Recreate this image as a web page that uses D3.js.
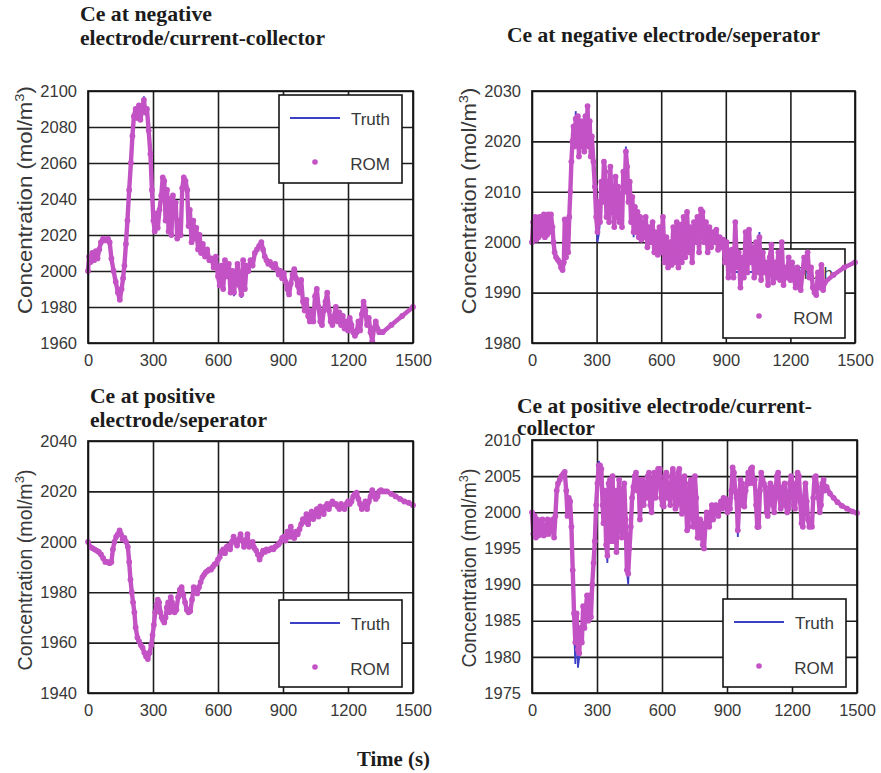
<!DOCTYPE html>
<html>
<head>
<meta charset="utf-8">
<title>Ce concentration: Truth vs ROM</title>
<style>
  body { margin: 0; background: #fff; }
  svg { display: block; }
  .tick text { font-family: "Liberation Sans", Arial, sans-serif; font-size: 16.5px; fill: #383838; }
  .tick line { stroke: #1e1e1e; stroke-width: 1.6; }
  .title { font-family: "Liberation Serif", "Times New Roman", serif; font-weight: bold; font-size: 21px; fill: #1c1c1c; }
  .ylab, .leg { font-family: "Liberation Sans", Arial, sans-serif; fill: #383838; }
</style>
</head>
<body>
<div id="chart"></div>
<script src="https://cdn.jsdelivr.net/npm/d3@7"></script>
<script>
// ---- data (time in s, concentration in mol/m^3) ----
var seriesNames = ["Truth", "ROM"];
var timeTicks = [0, 300, 600, 900, 1200, 1500];

// negative electrode / current-collector
var p1Ticks = [1960, 1980, 2000, 2020, 2040, 2060, 2080, 2100];
var p1Time = [
  0,5,12,20,28,36,44,52,60,70,
  80,92,100,108,118,128,138,147,155,162,
  168,175,182,190,198,205,212,220,228,235,
  242,250,258,265,272,280,288,295,302,308,
  315,322,330,338,345,352,358,365,372,378,
  385,392,398,405,412,420,428,435,442,450,
  458,464,470,478,486,494,500,508,515,522,
  530,540,550,560,570,580,590,600,608,616,
  624,632,640,650,658,666,674,682,690,700,
  708,716,724,732,740,750,760,770,780,790,
  800,808,816,824,832,840,848,856,864,872,
  880,888,896,904,912,920,928,936,944,952,
  960,968,976,984,992,1000,1008,1016,1024,1032,
  1040,1048,1056,1064,1072,1080,1088,1096,1104,1112,
  1120,1128,1136,1144,1152,1160,1168,1176,1184,1192,
  1200,1208,1216,1224,1232,1240,1248,1256,1264,1272,
  1280,1288,1296,1304,1312,1320,1328,1336,1344,1352,
  1360,1400,1450,1500];
var p1Rom = [
  2000,2008,2005,2010,2006,2011,2007,2012,2016,2018,
  2017,2018,2016,2007,2000,1994,1988,1984,1990,1996,
  2003,2015,2028,2045,2060,2075,2086,2090,2085,2092,
  2084,2090,2095,2088,2090,2078,2065,2045,2028,2022,
  2032,2024,2034,2042,2052,2050,2028,2045,2022,2040,
  2020,2042,2030,2038,2018,2028,2020,2046,2052,2050,
  2045,2025,2034,2016,2028,2018,2024,2012,2020,2010,
  2015,2008,2012,2006,2007,2002,2008,1997,1992,2003,
  1990,2006,1997,2004,1988,2000,1988,1997,2004,1992,
  1987,2006,1990,2003,2000,2006,2003,2010,2012,2014,
  2016,2012,2008,2006,2004,2005,2003,2002,2004,2001,
  1998,2000,1996,1999,1994,1990,1987,1993,1998,2001,
  1996,1992,1988,1995,1983,1978,1984,1975,1972,1978,
  1972,1986,1990,1980,1972,1970,1978,1983,1988,1978,
  1972,1970,1975,1980,1972,1977,1970,1975,1968,1972,
  1967,1974,1970,1966,1964,1966,1972,1967,1976,1983,
  1978,1970,1974,1966,1961,1968,1972,1968,1966,1966,
  1966,1970,1975,1980];
var p1Truth = [
  2000,2008,2005,2010,2006,2011,2007,2012,2016,2018,
  2017,2018,2016,2007,2000,1994,1988,1984,1990,1995,
  2003,2015,2028,2045,2060,2075,2086,2090,2085,2092,
  2084,2090,2097,2088,2090,2078,2065,2045,2028,2022,
  2032,2024,2034,2042,2052,2050,2028,2045,2022,2040,
  2020,2042,2030,2038,2018,2028,2020,2046,2052,2050,
  2045,2025,2034,2016,2028,2018,2024,2012,2020,2010,
  2015,2008,2012,2006,2007,2002,2008,1997,1992,2003,
  1990,2006,1997,2004,1988,2000,1986,1997,2004,1992,
  1985,2006,1990,2003,2000,2006,2003,2010,2012,2014,
  2016,2012,2008,2006,2004,2005,2003,2002,2004,2001,
  1998,2000,1996,1999,1994,1990,1987,1993,1998,2001,
  1996,1992,1988,1995,1983,1978,1984,1975,1972,1978,
  1972,1986,1990,1980,1972,1970,1978,1983,1988,1978,
  1972,1970,1975,1980,1972,1977,1970,1975,1968,1972,
  1967,1974,1970,1966,1964,1966,1972,1967,1976,1983,
  1978,1970,1974,1966,1961,1968,1972,1968,1966,1966,
  1965,1970,1975,1980];

// negative electrode / separator
var p2Ticks = [1980, 1990, 2000, 2010, 2020, 2030];
var p2Time = [
  0,5,10,15,20,25,30,35,40,45,
  50,55,60,65,70,75,80,88,95,100,
  105,112,120,128,135,142,148,152,158,163,
  168,173,178,183,188,193,198,203,208,213,
  218,223,228,233,238,243,248,253,258,263,
  268,273,278,285,292,298,304,310,316,322,
  328,334,340,346,352,358,364,370,376,382,
  388,394,400,406,412,418,424,430,436,442,
  448,454,460,466,472,478,484,490,496,502,
  508,514,520,528,536,544,552,560,568,576,
  584,592,600,608,616,624,632,640,648,656,
  664,672,680,688,696,704,712,720,728,736,
  744,752,760,768,776,784,792,800,808,816,
  824,832,840,848,856,864,872,880,888,896,
  904,912,920,928,936,944,952,960,968,976,
  984,992,1000,1008,1016,1024,1032,1040,1048,1056,
  1064,1072,1080,1088,1096,1104,1112,1120,1128,1136,
  1144,1152,1160,1168,1176,1184,1192,1200,1208,1216,
  1224,1232,1240,1248,1256,1264,1272,1280,1288,1296,
  1304,1312,1320,1328,1336,1344,1352,1360,1400,1450,
  1500];
var p2Rom = [
  2000,2004,2001,2005,2000.5,2004.5,2001,2005,2001.5,2005,
  2002,2005.5,2001,2004.8,2001.5,2005.5,2002,2005.5,2003,2000,
  1998,1997,1996.5,1996,1995,1994.5,1996,2004.5,1997,2003,
  1998,2005,2010,2016,2020,2023,2019,2024.5,2021,2025,
  2017,2022,2024,2019,2023,2018,2025,2020,2027,2019,
  2024,2017,2021,2016,2011,2005,2002,2008,2004,2012,
  2008,2016,2014,2005,2012,2004,2015,2006,2010,2003,
  2013,2005,2011,2004,2009,2003,2014,2010,2018,2015,
  2008,2012,2004,2009,2002,2007,2002,2006,2001,2005,
  2000.5,2004,2001,2005,1999,2003,2000,2004,1998,2002,
  1997.5,2003,1998,2005,1996,2001,1995,2000,1995.5,2003,
  1996,2004,1995,2003.5,1996,2005,1997,2006,1998,2003,
  1996,2004,2000,2005,1998,2006.5,2006,2000,2004,1998,
  2003,1999,2002,2000,2002.5,1998.5,2001,1999,2000.5,1996,
  2000,1993,1997,1998.5,1993,2004,1995,1998,1991,1997,
  1993,2002,1994,2002.5,1996,1999,1993,2000,1994,2001,
  1992.5,1998,1994,1996,1991.5,1997,1999.5,1992,1996,1993,
  1998,1992.5,2000,1991.5,1995,1993,1997,1992.5,1996,1993,
  1991,1995,1992,1990.5,1994,1997,1995,1998,1993,1995,
  1991,1990,1989.5,1994,1991,1995.5,1990.5,1992,1993.5,1995,
  1996];
var p2Truth = [
  2000,2004,2001,2005,2000.5,2004.5,2001,2005,2001.5,2005,
  2002,2005.5,2001,2004.8,2001.5,2005.5,2002,2005.5,2003,2000,
  1998,1997,1996.5,1996,1995,1994,1996,2004.5,1997,2003,
  1998,2005,2010,2016,2020,2023,2019,2026,2021,2025,
  2017,2022,2024,2019,2023,2018,2025,2020,2027,2019,
  2024,2017,2021,2016,2011,2005,2000,2001.5,2004,2012,
  2008,2016,2014,2005,2012,2004,2015,2006,2010,2003,
  2013,2005,2011,2004,2009,2003,2014,2010,2019,2015,
  2008,2012,2004,2009,2001,2007,2002,2006,2001,2005,
  2000.5,2004,2001,2005,1999,2003,2000,2004,1998,2002,
  1997.5,2003,1998,2005,1996,2001,1995,2000,1995.5,2003,
  1996,2004,1995,2003.5,1996,2005,1997,2006,1998,2003,
  1996,2004,2000,2005,1998,2006.5,2006,2000,2004,1998,
  2003,1999,2002,2000,2002.5,1998.5,2001,1999,2000.5,1996,
  2000,1993,1997,1998.5,1993,2004,1995,1998,1991,1997,
  1993,2002,1994,2002.5,1996,1999,1993,2000,1994,2002,
  1992.5,1998,1994,1996,1991.5,1997,1999.5,1992,1996,1993,
  1998,1992.5,2000,1991.5,1995,1993,1997,1992.5,1996,1993,
  1991,1995,1992,1990,1994,1997,1995,1998,1993,1995,
  1991,1990,1989.5,1994,1991,1995.5,1990.5,1992,1993.5,1995,
  1996];

// positive electrode / separator
var p3Ticks = [1940, 1960, 1980, 2000, 2020, 2040];
var p3Time = [
  0,10,20,30,40,50,60,70,80,90,
  100,108,115,122,130,138,146,152,160,168,
  176,184,190,196,202,208,214,220,228,236,
  244,252,260,268,276,284,292,298,304,310,
  316,322,328,334,340,346,352,358,364,370,
  376,382,388,394,400,408,416,424,432,440,
  448,456,464,472,480,488,496,504,512,520,
  528,536,544,552,560,568,576,584,592,600,
  608,616,624,632,640,648,656,664,672,680,
  688,696,704,712,720,728,736,744,752,760,
  768,776,784,792,800,808,816,824,832,840,
  848,856,864,872,880,888,896,904,912,920,
  928,936,944,952,960,968,976,984,992,1000,
  1008,1016,1024,1032,1040,1048,1056,1064,1072,1080,
  1088,1096,1104,1112,1120,1128,1136,1144,1152,1160,
  1168,1176,1184,1192,1200,1208,1216,1224,1232,1240,
  1248,1256,1264,1272,1280,1288,1296,1304,1312,1320,
  1328,1336,1344,1352,1360,1370,1380,1400,1420,1440,
  1460,1480,1500];
var p3Rom = [
  2000,1998,1997.5,1997,1996.5,1996,1995,1993.5,1992,1992,
  1991.5,1992,1997,2000,2002,2003,2004.5,2003,2001,2001.5,
  2000,1998,1992,1985,1980,1976,1972,1966,1962,1960.5,
  1959,1958,1956,1954.5,1953.5,1956,1959,1963,1967,1972,
  1975,1977,1976,1972,1970,1969,1968,1970,1974,1976,
  1972,1978,1976,1974,1972,1973,1978,1981,1982,1979,
  1976,1973,1972,1972.5,1977,1982,1980,1979.5,1982,1984,
  1986,1987,1988,1988.5,1989,1989,1990,1991,1991.5,1993,
  1994,1996,1997,1995.5,1998,1998.5,1997,2000,2002,2000,
  1998.5,2001,2003,2000.5,1998,2000.5,2003,1998,1999,2000,
  1997.5,1996.5,1995,1993,1995,1996.5,1996,1997,1996.5,1997,
  1997.5,1997,1998,1998.5,1999,2000,2001.5,2002,2000.5,2004,
  2002,2006,2002,2001.5,2004,2003,2005,2007,2009,2008,
  2011,2007,2010,2012,2009,2011,2013,2010,2014,2012,
  2011,2014,2015,2013,2015,2016,2015,2015,2014,2013,
  2015,2014,2013,2015,2016,2015,2016,2018,2019,2019.5,
  2017,2015,2013,2014,2016,2013,2016,2018,2020.5,2019,
  2017,2018,2020,2020.5,2020,2020,2020,2019,2018,2017,
  2016,2015.5,2014.5];
var p3Truth = [
  2000,1998,1997.5,1997,1996.5,1996,1995,1993.5,1992,1992,
  1991.5,1992,1997,2000,2002,2003,2004.5,2003,2001,2001.5,
  2000,1998,1992,1985,1981,1976,1972,1965,1962,1960.5,
  1959,1958,1956,1954.5,1953.5,1956,1959,1963,1967,1972,
  1975,1977,1976,1972,1970,1969,1968,1970,1974,1976,
  1972,1978,1976,1974,1972,1973,1978,1981,1982,1979,
  1976,1973,1972,1972.5,1977,1982,1980,1979.5,1982,1984,
  1986,1987,1988,1988.5,1989,1989,1990,1991,1991.5,1993,
  1994,1996,1997,1995.5,1998,1998.5,1997,2000,2002,2000,
  1998.5,2001,2003.5,2000.5,1998,2000.5,2003.5,1998,1999,2000,
  1997.5,1996.5,1996,1993,1995,1996.5,1996,1997,1996.5,1997,
  1997.5,1997,1998,1998.5,1999,2000,2001.5,2002,2000.5,2004,
  2002,2006,2002,2001.5,2004,2003,2005,2007,2009,2008,
  2011,2007,2010,2012,2009,2011,2013,2010,2014,2012,
  2011,2014,2015,2013,2015,2016,2015,2015,2014,2013,
  2015,2014,2013,2015,2016,2015,2016,2018,2019,2019.5,
  2017,2015,2013,2014,2016,2013,2016,2018,2020.5,2019,
  2017,2018,2020,2020.5,2020,2020,2020,2019,2018,2017,
  2016,2015.5,2014.5];

// positive electrode / current-collector
var p4Ticks = [1975, 1980, 1985, 1990, 1995, 2000, 2005, 2010];
var p4Time = [
  0,6,12,18,24,30,36,42,48,54,
  60,66,72,78,84,90,96,102,108,114,
  120,128,136,144,151,158,164,170,176,182,
  188,194,200,206,212,218,224,230,236,242,
  248,254,260,266,272,278,284,290,296,302,
  308,314,320,326,330,336,342,348,354,360,
  366,372,378,384,390,396,402,408,414,420,
  426,432,438,444,450,456,462,468,474,480,
  486,492,498,504,510,516,522,528,534,540,
  546,552,558,564,570,576,582,590,596,602,
  608,614,620,626,632,638,644,650,656,662,
  668,674,680,686,692,698,704,710,716,722,
  728,734,740,746,752,758,764,770,776,782,
  788,794,800,806,812,818,824,830,836,842,
  848,854,860,866,872,878,884,890,896,902,
  908,914,920,926,932,938,944,950,956,962,
  968,974,980,986,992,998,1004,1010,1016,1022,
  1028,1034,1040,1046,1052,1058,1064,1070,1076,1082,
  1088,1094,1100,1106,1112,1118,1124,1130,1136,1142,
  1148,1154,1160,1166,1172,1178,1184,1190,1196,1202,
  1208,1214,1220,1226,1232,1238,1244,1250,1256,1262,
  1268,1274,1280,1286,1292,1298,1304,1310,1316,1322,
  1328,1334,1340,1346,1352,1360,1375,1392,1410,1430,
  1454,1480,1500];
var p4Rom = [
  2000,1997,1999.5,1996.5,1999,1996.8,1998.5,1997,1999,1996.8,
  1998,1997,1999,1997,1998.5,1997.5,1999,1996.5,1999.5,2003,
  2004,2004.5,2005,2005.3,2005.6,2003,1999.5,2002,2001.5,1998,
  1992,1986,1982,1986,1981,1980.5,1984,1982,1987,1984,
  1986.5,1988.5,1985,1988.5,1985.5,1990,1993,1996,2001,2004,
  2006.5,2006.5,2006,2001,1998.5,2003,1995.5,1994,2004,2004.5,
  1996,2005,1996,2003,1994.5,2000,2004.5,2002,1996.5,2001,
  2004,1999,1992,1991.5,1995,1998,2002,2003.5,2005,2005.5,
  2003,2004.5,1999,2002,2004.5,2001,2004,2002,2005,2005.5,
  2001,2000,2004,2005.5,2002,2004,2006,2006,2002,2001,
  2000.8,2005,2005.5,2002,2003.5,2001,2005,2006,2004,2000.5,
  2001,2005.5,2006,2002,1999.8,2004,2005,2002,1997.5,1998,
  2004,2004.5,2000,1998,2005,2002,1996.5,1996.5,1999,1998.5,
  1995.5,1995,1998,2000,1999,1998,1999.5,2001,1999,2000.5,
  2001,2000,1999.5,2001,2001.5,2000.5,2002,2001,2001.8,2000,
  2001.5,2000.5,2003,2006.2,2005.5,2003,2002,1997.5,2001,2004.5,
  2004,2001,2000.8,2003,2004,2005.5,2004,2006,2006.2,2004,
  2004.5,2001,1998,1998,2003,2005.5,2004.5,2004,2003.5,2000,
  1999.5,2002,2004,2003.5,2001,2000,2003,2005,2005.5,2002,
  2000.5,2001,2003.5,2004,2001,2000,2000.5,2004,2005,2004,
  2001,2000.5,2003,2005.5,2005,2001.5,1998.5,1998,2002,2004,
  2001.5,1999,1998,1998.5,1998,2002,2004.8,2005,2003.5,2002,
  2000,2001,2004,2004.5,2003,2003.5,2002.6,2002,2001.4,2000.9,
  2000.5,2000.1,1999.9];
var p4Truth = [
  2000,1997,1999.5,1996.5,1999,1996.8,1998.5,1997,1999,1996.8,
  1998,1997,1999,1997,1998.5,1997.5,1999,1996.5,1999.5,2003,
  2004,2004.5,2005,2005.3,2005.6,2003,1999.5,2002,2001.5,1998,
  1992,1984,1979,1986,1978.5,1980,1984,1982,1987,1984,
  1986.5,1988.5,1985,1988.5,1985.5,1990,1993,1996,2001,2004,
  2007.1,2006.5,2006,2001,1998.5,2003,1995.5,1993,2004,2004.5,
  1996,2005,1996,2003,1994.5,2000,2004.5,2002,1996.5,2001,
  2004,1999,1992,1990,1995,1998,2002,2003.5,2005,2005.5,
  2003,2004.5,1999,2002,2004.5,2001,2004,2002,2005,2005.5,
  2001,2000,2004,2005.5,2002,2004,2006,2006,2002,2001,
  2000.8,2005,2005.5,2002,2003.5,2001,2005,2006,2004,2000.5,
  2001,2005.5,2006,2002,1999.8,2004,2005,2002,1997.5,1998,
  2004,2004.5,2000,1998,2005,2002,1996.5,1996.5,1999,1998.5,
  1995.5,1995,1998,2000,1999,1998,1999.5,2001,1999,2000.5,
  2001,2000,1999.5,2001,2001.5,2000.5,2002,2001,2001.8,2000,
  2001.5,2000.5,2003,2006.2,2005.5,2003,2002,1996.6,2001,2004.5,
  2004,2001,2000.8,2003,2004,2005.5,2004,2006,2006.2,2004,
  2004.5,2001,1997.6,1998,2003,2005.5,2004.5,2004,2003.5,2000,
  1999.5,2002,2004,2003.5,2001,2000,2003,2005,2005.5,2002,
  2000.5,2001,2003.5,2004,2001,2000,2000.5,2004,2005,2004,
  2001,2000.5,2003,2005.5,2005,2001.5,1998.5,1998,2002,2004,
  2001.5,1999,1998,1998.5,1998,2002,2004.8,2005,2003.5,2002,
  2000,2001,2004,2004.5,2003,2003.5,2002.6,2002,2001.4,2000.9,
  2000.5,2000.1,1999.9];

// ---- layout ----
var truthColor = "#3b40c6";
var romColor = "#c352c5";

var panels = [
  {time: p1Time, truth: p1Truth, rom: p1Rom, yTicks: p1Ticks,
   left: 88, top: 91, width: 325, height: 252, legend: [279, 95, 123, 88],
   labelLen: 228, labelMid: 200,
   title: [["Ce at negative", 80, 21, 132], ["electrode/current-collector", 80, 45, 245]]},
  {time: p2Time, truth: p2Truth, rom: p2Rom, yTicks: p2Ticks,
   left: 532, top: 91, width: 323, height: 252, legend: [723, 249, 122, 89],
   labelLen: 227, labelMid: 201,
   title: [["Ce at negative electrode/seperator", 507, 42, 313]]},
  {time: p3Time, truth: p3Truth, rom: p3Rom, yTicks: p3Ticks,
   left: 88, top: 441, width: 325, height: 252, legend: [279, 600, 123, 87],
   labelLen: 201, labelMid: 570,
   title: [["Ce at positive", 90, 403, 125], ["electrode/seperator", 90, 427, 177]]},
  {time: p4Time, truth: p4Truth, rom: p4Rom, yTicks: p4Ticks,
   left: 532, top: 440, width: 325, height: 253, legend: [723, 599, 123, 88],
   labelLen: 199, labelMid: 568,
   title: [["Ce at positive electrode/current-", 517, 413, 295], ["collector", 517, 435, 78]]}
];

var svg = d3.select("#chart").append("svg")
  .attr("width", 881)
  .attr("height", 773);

panels.forEach(function(p) {
  var x = d3.scaleLinear().domain([0, 1500]).range([0, p.width]);
  var y = d3.scaleLinear()
    .domain([p.yTicks[0], p.yTicks[p.yTicks.length - 1]])
    .range([p.height, 0]);

  var g = svg.append("g")
    .attr("transform", "translate(" + p.left + "," + p.top + ")");

  // grid lines + tick labels
  g.append("g")
    .attr("transform", "translate(0," + p.height + ")")
    .call(d3.axisBottom(x).tickValues(timeTicks).tickSize(-p.height).tickPadding(11).tickFormat(d3.format("d")))
    .call(function(a) { a.select(".domain").remove(); });
  g.append("g")
    .call(d3.axisLeft(y).tickValues(p.yTicks).tickSize(-p.width).tickPadding(11).tickFormat(d3.format("d")))
    .call(function(a) { a.select(".domain").remove(); });

  // legend (sits under the data, as in the figure)
  var lg = g.append("g")
    .attr("transform", "translate(" + (p.legend[0] - p.left) + "," + (p.legend[1] - p.top) + ")");
  lg.append("rect")
    .attr("width", p.legend[2]).attr("height", p.legend[3])
    .attr("fill", "#fff").attr("stroke", "#151515").attr("stroke-width", 1.6);
  lg.append("line")
    .attr("x1", 11).attr("x2", 61).attr("y1", 23).attr("y2", 23)
    .attr("stroke", truthColor).attr("stroke-width", 2.2);
  lg.append("text").attr("class", "leg")
    .attr("x", p.legend[2] - 12).attr("y", 29.5)
    .attr("text-anchor", "end").attr("font-size", 17)
    .text(seriesNames[0]);
  lg.append("circle")
    .attr("cx", 36).attr("cy", 67).attr("r", 2.8)
    .attr("fill", romColor);
  lg.append("text").attr("class", "leg")
    .attr("x", p.legend[2] - 12).attr("y", 74.5)
    .attr("text-anchor", "end").attr("font-size", 17)
    .text(seriesNames[1]);

  // series
  var line = d3.line()
    .x(function(d) { return x(d[0]); })
    .y(function(d) { return y(d[1]); });
  var truthPts = d3.zip(p.time, p.truth);
  var romPts = d3.zip(p.time, p.rom);

  g.append("path").datum(truthPts)
    .attr("d", line)
    .attr("fill", "none")
    .attr("stroke", truthColor)
    .attr("stroke-width", 1.8);
  g.append("path").datum(romPts)
    .attr("d", line)
    .attr("fill", "none")
    .attr("stroke", romColor)
    .attr("stroke-width", 4.4)
    .attr("stroke-linejoin", "round");
  g.append("g").selectAll("circle")
    .data(romPts)
    .enter()
    .append("circle")
    .attr("cx", function(d) { return x(d[0]); })
    .attr("cy", function(d) { return y(d[1]); })
    .attr("r", 2.9)
    .attr("fill", romColor);

  // frame
  g.append("rect")
    .attr("width", p.width).attr("height", p.height)
    .attr("fill", "none").attr("stroke", "#151515").attr("stroke-width", 1.7);

  // y label, stretched to the length seen in the figure
  var yl = svg.append("text").attr("class", "ylab")
    .attr("text-anchor", "middle")
    .attr("font-size", 19.5);
  yl.append("tspan").text("Concentration (mol/m");
  yl.append("tspan").attr("dy", -8).attr("font-size", 13).text("3");
  yl.append("tspan").attr("dy", 8).text(")");
  var natural = yl.node().getComputedTextLength();
  yl.attr("transform", "translate(" + (p.left - 56) + "," + p.labelMid + ") rotate(-90) scale(" + (p.labelLen / natural) + ",1)");

  // titles
  p.title.forEach(function(t) {
    svg.append("text").attr("class", "title")
      .attr("x", t[1]).attr("y", t[2])
      .attr("textLength", t[3]).attr("lengthAdjust", "spacingAndGlyphs")
      .text(t[0]);
  });
});

svg.append("text").attr("class", "title")
  .attr("x", 357).attr("y", 766)
  .attr("textLength", 73).attr("lengthAdjust", "spacingAndGlyphs")
  .text("Time (s)");
</script>
</body>
</html>
